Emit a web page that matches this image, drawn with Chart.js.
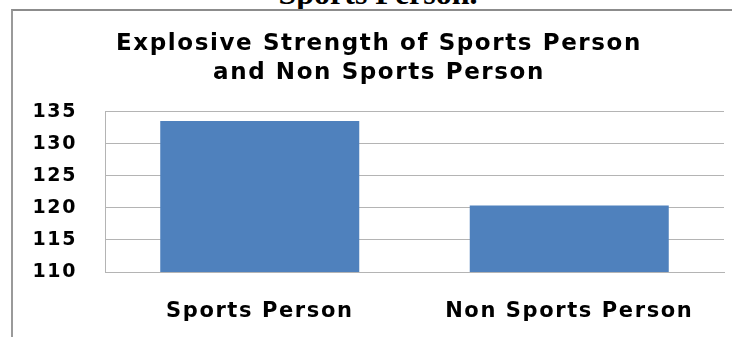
<!DOCTYPE html>
<html>
<head>
<meta charset="utf-8">
<script src="https://cdn.jsdelivr.net/npm/chart.js@4.4.1/dist/chart.umd.min.js"></script>
<style>
    body { margin: 0; background: #fff; }
    #kop {
        position: absolute; left: 0; top: -23px; width: 756px; text-align: center;
        font: bold 32px "Liberation Serif", serif; line-height: 32px; color: #000;
    }
    #kader {
        position: absolute; left: 11px; top: 9px; width: 740px; height: 340px;
        border-left: 2px solid #9a9a9a; border-top: 2px solid #8c8c8c;
    }
    #wrap { position: absolute; left: 0; top: 0; width: 732px; height: 337px; }
</style>
</head>
<body>
<div id="kop">Sports Person.</div>
<div id="kader"></div>
<div id="wrap"><canvas id="myChart"></canvas></div>
<script>
let categorieen = ["Sports Person", "Non Sports Person"];
let waarden = [133.6, 120.4];
let titel = ["Explosive Strength of Sports Person", "and Non Sports Person"];
let yMin = 110;
let yMax = 135;
let yStap = 5;

let lijnkleur = "#b4b4b4";
let balkkleur = "rgb(79, 129, 189)";

// de letters in het origineel zijn breed uitgerekt, dus wat extra ruimte tussen de tekens
const breedLetters = {
    id: "breedLetters",
    beforeUpdate(chart) { chart.ctx.letterSpacing = "1.6px"; },
    beforeDraw(chart) { chart.ctx.letterSpacing = "1.6px"; }
};

const data = {
    labels: categorieen,
    datasets: [{
        label: "Explosive Strength",
        data: waarden,
        backgroundColor: balkkleur,
        borderWidth: 0,
        barPercentage: 0.643,
        categoryPercentage: 1
    }]
};

const config = {
    type: "bar",
    data,
    options: {
        responsive: true,
        maintainAspectRatio: false,
        animation: false,
        layout: {
            padding: { left: 34, right: 8, top: 0, bottom: 0 }
        },
        plugins: {
            legend: { display: false },
            tooltip: { enabled: false },
            title: {
                display: true,
                text: titel,
                color: "#000",
                font: { family: "DejaVu Sans", weight: "bold", size: 23, lineHeight: 1.26 },
                padding: { top: 29.5, bottom: 24.5 }
            }
        },
        scales: {
            x: {
                afterFit(schaal) { schaal.height = 65; },
                grid: { display: false, drawTicks: false },
                border: { display: true, color: lijnkleur, width: 1 },
                ticks: {
                    color: "#000",
                    padding: 28,
                    font: { family: "DejaVu Sans", weight: "bold", size: 21, lineHeight: 1.1 }
                }
            },
            y: {
                min: yMin,
                max: yMax,
                afterFit(schaal) { schaal.width = 71; },
                grid: { color: lijnkleur, lineWidth: 1, drawTicks: false },
                border: { display: true, color: lijnkleur, width: 1 },
                ticks: {
                    stepSize: yStap,
                    color: "#000",
                    padding: 28,
                    font: { family: "DejaVu Sans", weight: "bold", size: 19 }
                }
            }
        }
    },
    plugins: [breedLetters]
};

let myChart = new Chart(document.getElementById("myChart"), config);
</script>
</body>
</html>
